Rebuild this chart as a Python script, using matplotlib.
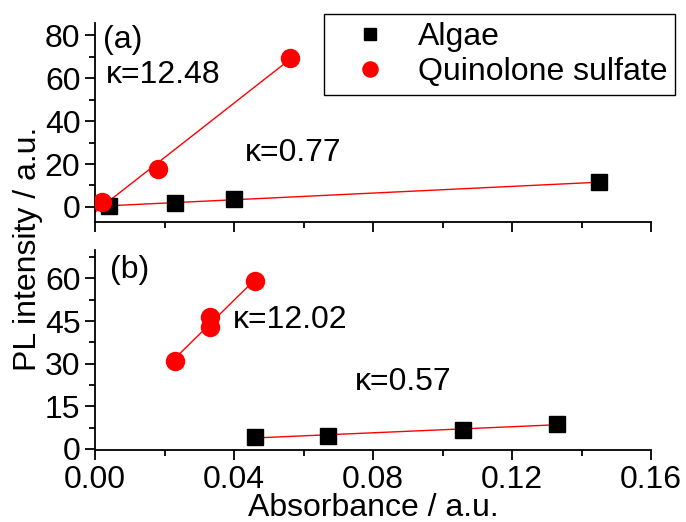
import numpy as np
import matplotlib
matplotlib.use("Agg")
import matplotlib.pyplot as plt
from matplotlib.ticker import MultipleLocator

plt.rcParams["font.family"] = ["Liberation Sans", "DejaVu Sans"]
plt.rcParams["font.size"] = 23

# (a) datos
a_algae_x = [0.004, 0.023, 0.040, 0.145]
a_algae_y = [0.5, 2.0, 3.5, 11.5]
a_qs_x = [0.002, 0.018, 0.056]
a_qs_y = [2.3, 17.5, 69.5]

# (b) datos
b_algae_x = [0.046, 0.067, 0.106, 0.133]
b_algae_y = [4.2, 4.6, 6.7, 8.8]
b_qs_x = [0.023, 0.033, 0.033, 0.046]
b_qs_y = [31.1, 46.3, 42.8, 59.0]

fig = plt.figure(figsize=(6.86, 5.22), dpi=100)
ax1 = fig.add_axes([0.1385, 0.5747, 0.8105, 0.381])
ax2 = fig.add_axes([0.1385, 0.138, 0.8105, 0.383])


def recta(ax, x, y, x0, x1):
    m, b = np.polyfit(x, y, 1)
    xs = np.array([x0, x1])
    ax.plot(xs, m * xs + b, color="red", lw=1, zorder=2)


for ax in (ax1, ax2):
    for s in ("top", "right"):
        ax.spines[s].set_visible(False)
    for s in ("left", "bottom"):
        ax.spines[s].set_linewidth(1.3)
    ax.set_xlim(0, 0.16)
    ax.xaxis.set_major_locator(MultipleLocator(0.04))
    ax.xaxis.set_minor_locator(MultipleLocator(0.02))
    ax.tick_params(which="major", direction="out", length=7, width=1.3)
    ax.tick_params(which="minor", direction="out", length=4, width=1.3)

# Panel (a)
recta(ax1, a_qs_x, a_qs_y, 0, max(a_qs_x))
recta(ax1, a_algae_x, a_algae_y, 0, max(a_algae_x))
ax1.plot(a_algae_x, a_algae_y, "s", color="black", ms=11, ls="none", label="Algae", zorder=3)
ax1.plot(a_qs_x, a_qs_y, "o", color="red", ms=14, mec="none", ls="none", label="Quinolone sulfate", zorder=3)
ax1.set_ylim(-7, 85.6)
ax1.yaxis.set_major_locator(MultipleLocator(20))
ax1.yaxis.set_minor_locator(MultipleLocator(10))
ax1.tick_params(axis="x", labelbottom=False)
ax1.text(0.0023, 77.7, "(a)", va="center", ha="left")
ax1.text(0.003, 61.4, "κ=12.48", va="center", ha="left")
ax1.text(0.043, 25.1, "κ=0.77", va="center", ha="left")

leg = ax1.legend(loc="upper left", bbox_to_anchor=(324 / 686, 1 - 14 / 522),
                 bbox_transform=fig.transFigure, fancybox=False, framealpha=1,
                 edgecolor="black", markerscale=0.85, handlelength=2.4,
                 handletextpad=0.28, borderpad=0.25, labelspacing=0.15,
                 borderaxespad=0)
leg.get_frame().set_linewidth(1)

# Panel (b)
recta(ax2, b_qs_x, b_qs_y, min(b_qs_x), max(b_qs_x))
recta(ax2, b_algae_x, b_algae_y, min(b_algae_x), max(b_algae_x))
ax2.plot(b_algae_x, b_algae_y, "s", color="black", ms=11, ls="none", zorder=3)
ax2.plot(b_qs_x, b_qs_y, "o", color="red", ms=14, mec="none", ls="none", zorder=3)
ax2.set_ylim(-0.4, 70)
ax2.yaxis.set_major_locator(MultipleLocator(15))
ax2.yaxis.set_minor_locator(MultipleLocator(7.5))
ax2.xaxis.set_major_formatter(matplotlib.ticker.FormatStrFormatter("%.2f"))
ax2.text(0.0043, 62.8, "(b)", va="center", ha="left")
ax2.text(0.0397, 45.2, "κ=12.02", va="center", ha="left")
ax2.text(0.0748, 23.6, "κ=0.57", va="center", ha="left")
ax2.set_xlabel("Absorbance / a.u.", labelpad=-1)

fig.text(0.041, 0.523, "PL intensity / a.u.", rotation=90, ha="center", va="center")

fig.savefig("out.png", dpi=100)
